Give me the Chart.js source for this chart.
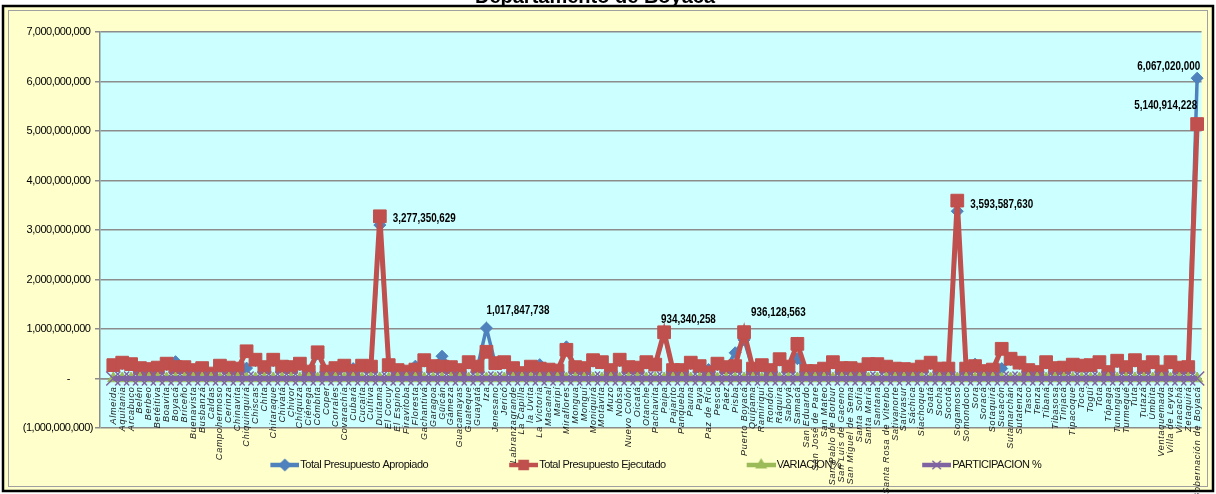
<!DOCTYPE html>
<html>
<head>
<meta charset="utf-8">
<script src="https://cdn.jsdelivr.net/npm/chart.js@4.4.0/dist/chart.umd.min.js"></script>
<style>
  html, body { margin: 0; padding: 0; background: #ffffff; }
  canvas { display: block; }
</style>
</head>
<body>
<canvas id="presupuestoChart" width="1216" height="494"></canvas>
<script>
// ── Data ─────────────────────────────────────────────────────────────
var municipios = ['', 'Almeida', 'Aquitania', 'Arcabuco', 'Belén', 'Berbeo', 'Betéitiva', 'Boavita', 'Boyacá',
  'Briceño', 'Buenavista', 'Busbanzá', 'Caldas', 'Campohermoso', 'Cerinza', 'Chinavita', 'Chiquinquirá',
  'Chiscas', 'Chita', 'Chitaraque', 'Chivatá', 'Chivor', 'Chíquiza', 'Ciénega', 'Cómbita', 'Coper',
  'Corrales', 'Covarachía', 'Cubará', 'Cucaita', 'Cuítiva', 'Duitama', 'El Cocuy', 'El Espino',
  'Firavitoba', 'Floresta', 'Gachantivá', 'Garagoa', 'Güicán', 'Gámeza', 'Guacamayas', 'Guateque',
  'Guayatá', 'Iza', 'Jenesano', 'Jericó', 'Labranzagrande', 'La Capilla', 'la Uvita', 'La Victoria',
  'Macanal', 'Maripí', 'Miraflores', 'Mongua', 'Monguí', 'Moniquirá', 'Motavita', 'Muzo', 'Nobsa',
  'Nuevo Colón', 'Oicatá', 'Otanche', 'Pachavita', 'Paipa', 'Pajarito', 'Panqueba', 'Pauna', 'Paya',
  'Paz de Río', 'Pesca', 'Páez', 'Pisba', 'Puerto Boyacá', 'Quípama', 'Ramiriquí', 'Rondón', 'Ráquira',
  'Saboyá', 'Samacá', 'San Eduardo', 'San José de Pare', 'San Mateo', 'San Pablo de Borbur',
  'San Luis de Gaceno', 'San Miguel de Sema', 'Santa Sofía', 'Santa María', 'Santana',
  'Santa Rosa de Viterbo', 'Sativanorte', 'Sativasur', 'Sáchica', 'Siachoque', 'Soatá', 'Socha',
  'Socotá', 'Sogamoso', 'Somondoco', 'Sora', 'Soracá', 'Sotaquirá', 'Susacón', 'Sutamarchán',
  'Sutatenza', 'Tasco', 'Tenza', 'Tibaná', 'Tibasosa', 'Tinjacá', 'Tipacoque', 'Toca', 'Togüí', 'Tota',
  'Tópaga', 'Tununguá', 'Turmequé', 'Tuta', 'Tutazá', 'Úmbita', 'Ventaquemada', 'Villa de Leyva',
  'Viracachá', 'Zetaquirá', 'Gobernación de Boyacá'];

var apropiado = [null,
  250e6, 300e6, 280e6, 200e6, 180e6, 210e6, 280e6, 340e6, 220e6, 160e6,
  200e6, 90e6, 240e6, 210e6, 190e6, 210e6, 360e6, 220e6, 360e6, 230e6,
  220e6, 280e6, 130e6, 500e6, 130e6, 200e6, 250e6, 200e6, 250e6, 230e6,
  3100e6, 260e6, 160e6, 130e6, 250e6, 350e6, 240e6, 450e6, 220e6, 160e6,
  310e6, 230e6, 1017847738, 290e6, 310e6, 200e6, 100e6, 230e6, 280e6, 170e6,
  150e6, 640e6, 220e6, 200e6, 350e6, 310e6, 160e6, 360e6, 220e6, 210e6,
  310e6, 270e6, 900e6, 160e6, 160e6, 300e6, 240e6, 180e6, 280e6, 220e6,
  520e6, 780e6, 190e6, 260e6, 160e6, 370e6, 230e6, 400e6, 140e6, 140e6,
  190e6, 310e6, 200e6, 200e6, 170e6, 280e6, 280e6, 230e6, 190e6, 180e6,
  170e6, 230e6, 300e6, 190e6, 190e6, 3380e6, 190e6, 290e6, 140e6, 170e6,
  200e6, 380e6, 300e6, 160e6, 120e6, 310e6, 200e6, 210e6, 270e6, 250e6,
  260e6, 310e6, 120e6, 340e6, 220e6, 350e6, 220e6, 310e6, 130e6, 310e6,
  210e6, 220e6, 6067020000];

var ejecutado = [null,
  270e6, 320e6, 290e6, 210e6, 190e6, 220e6, 300e6, 230e6, 230e6, 170e6,
  210e6, 100e6, 260e6, 220e6, 200e6, 550e6, 380e6, 230e6, 380e6, 240e6,
  230e6, 300e6, 140e6, 530e6, 140e6, 210e6, 260e6, 150e6, 260e6, 240e6,
  3277350629, 270e6, 170e6, 140e6, 180e6, 370e6, 250e6, 240e6, 230e6, 170e6,
  330e6, 240e6, 540e6, 310e6, 330e6, 210e6, 110e6, 240e6, 200e6, 180e6,
  160e6, 580e6, 230e6, 210e6, 370e6, 330e6, 170e6, 380e6, 230e6, 220e6,
  330e6, 280e6, 934340258, 170e6, 170e6, 320e6, 250e6, 120e6, 300e6, 230e6,
  250e6, 936128563, 200e6, 270e6, 170e6, 390e6, 240e6, 700e6, 150e6, 150e6,
  200e6, 330e6, 210e6, 210e6, 180e6, 290e6, 290e6, 240e6, 200e6, 190e6,
  180e6, 240e6, 320e6, 200e6, 200e6, 3593587630, 200e6, 250e6, 150e6, 180e6,
  600e6, 400e6, 320e6, 170e6, 130e6, 330e6, 210e6, 220e6, 280e6, 260e6,
  270e6, 330e6, 130e6, 360e6, 230e6, 370e6, 230e6, 330e6, 140e6, 330e6,
  220e6, 230e6, 5140914228];

var variacion = [null,
  7, 6, 3, 5, 5, 4, 7, -26, 4, 6, 5, 9, 8, 4, 5, 171, 5, 4, 5, 4,
  4, 7, 7, 10, 7, 5, 4, -15, 4, 4, 6, 4, 6, 7, -20, 5, 4, -42, 4, 6,
  6, 4, -45, 6, 6, 5, 8, 4, -21, 5, 6, -6, 4, 5, 5, 6, 6, 5, 4, 4,
  6, 3, 4, 6, 6, 6, 4, -22, 7, 4, -48, 20, 5, 4, 6, 5, 4, 80, 6, 6,
  5, 6, 5, 5, 5, 3, 3, 4, 5, 5, 5, 4, 6, 5, 5, 6, 5, -7, 6, 5,
  210, 5, 6, 6, 7, 6, 5, 4, 3, 4, 4, 6, 7, 6, 4, 5, 4, 6, 7, 6,
  4, 4, -15];

var participacion = [null,
  0.6, 0.7, 0.6, 0.5, 0.4, 0.5, 0.7, 0.5, 0.5, 0.4, 0.5, 0.2, 0.6, 0.5, 0.5, 1.2, 0.8, 0.5, 0.8, 0.5,
  0.5, 0.7, 0.3, 1.1, 0.3, 0.5, 0.6, 0.4, 0.6, 0.5, 6.8, 0.6, 0.4, 0.3, 0.4, 0.8, 0.6, 0.5, 0.5, 0.4,
  0.7, 0.5, 1.2, 0.7, 0.7, 0.5, 0.3, 0.5, 0.5, 0.4, 0.4, 1.2, 0.5, 0.5, 0.8, 0.7, 0.4, 0.8, 0.5, 0.5,
  0.7, 0.6, 1.9, 0.4, 0.4, 0.7, 0.6, 0.3, 0.7, 0.5, 0.6, 1.9, 0.5, 0.6, 0.4, 0.8, 0.5, 1.5, 0.4, 0.4,
  0.5, 0.7, 0.5, 0.5, 0.4, 0.6, 0.6, 0.5, 0.5, 0.4, 0.4, 0.5, 0.7, 0.5, 0.5, 7.4, 0.5, 0.6, 0.4, 0.4,
  1.3, 0.9, 0.7, 0.4, 0.3, 0.7, 0.5, 0.5, 0.6, 0.6, 0.6, 0.7, 0.3, 0.8, 0.5, 0.8, 0.5, 0.7, 0.3, 0.7,
  0.5, 0.5, 10.6];

var seriesNames = ['Total Presupuesto Apropiado', 'Total Presupuesto Ejecutado', 'VARIACION%', 'PARTICIPACION %'];
var seriesColors = ['#4F81BD', '#C0504D', '#9BBB59', '#8064A2'];

// ── Which points carry a value label (dataset, category, placement) ──
var labelSpots = [
  { ds: 1, i: 31, align: 'left', dx: 13, dy: 2 },
  { ds: 0, i: 43, align: 'left', dx: 0, dy: -17 },
  { ds: 1, i: 63, align: 'left', dx: -3, dy: -13 },
  { ds: 1, i: 72, align: 'left', dx: 7, dy: -19 },
  { ds: 1, i: 96, align: 'left', dx: 13, dy: 4 },
  { ds: 0, i: 123, align: 'right', dx: 3, dy: -11 },
  { ds: 1, i: 123, align: 'right', dx: 0, dy: -18 }
];

var SANS = '"Liberation Sans", Arial, sans-serif';

function miles(v) {
  return Math.round(Math.abs(v)).toLocaleString('en-US');
}

// legend swatch: short line with the series marker on it (right part of the image)
function legendIcon(color, style, radius) {
  var c = document.createElement('canvas');
  c.width = 83; c.height = 16;
  var g = c.getContext('2d');
  g.strokeStyle = color; g.fillStyle = color;
  g.lineWidth = 4.5;
  g.beginPath(); g.moveTo(54, 8); g.lineTo(83, 8); g.stroke();
  g.lineWidth = 1.5;
  Chart.helpers.drawPoint(g, { pointStyle: style, radius: radius, borderWidth: 1.5 }, 68.5, 8);
  return c;
}

var legendIcons = [
  legendIcon(seriesColors[0], 'rectRot', 5.5),
  legendIcon(seriesColors[1], 'rect', 6.5),
  legendIcon(seriesColors[2], 'triangle', 5.5),
  legendIcon(seriesColors[3], 'crossRot', 6)
];

// ── Background, frame, text tracking and title ───────────────────────
var framePlugin = {
  id: 'frame',
  beforeDraw: function (chart) {
    var ctx = chart.ctx, a = chart.chartArea;
    ctx.save();
    ctx.fillStyle = '#ffffff';
    ctx.fillRect(0, 0, chart.width, chart.height);
    ctx.fillStyle = '#FFFFCC';
    ctx.fillRect(3, 6, 1210, 485);
    ctx.strokeStyle = '#000000';
    ctx.lineWidth = 2.5;
    ctx.strokeRect(3, 6, 1210, 485);
    ctx.strokeStyle = '#a0a0a0';
    ctx.lineWidth = 1;
    ctx.strokeRect(8.5, 10.5, 1199, 476);
    ctx.fillStyle = '#CCFFFF';
    ctx.fillRect(a.left, a.top, a.right - a.left, a.bottom - a.top);
    ctx.restore();
    // y labels and legend are set tight, like the narrow office font
    ctx.letterSpacing = '-0.5px';
  },
  afterDatasetsDraw: function (chart) {
    var ctx = chart.ctx;
    ctx.letterSpacing = '0px';
    ctx.save();
    ctx.font = 'bold 12px ' + SANS;
    ctx.fillStyle = '#000000';
    ctx.textBaseline = 'middle';
    labelSpots.forEach(function (s) {
      var pt = chart.getDatasetMeta(s.ds).data[s.i];
      var v = chart.data.datasets[s.ds].data[s.i];
      if (!pt || v == null) return;
      ctx.save();
      ctx.translate(pt.x + s.dx, pt.y + s.dy);
      ctx.scale(0.82, 1);
      ctx.textAlign = s.align;
      ctx.fillText(miles(v), 0, 0);
      ctx.restore();
    });
    ctx.restore();
    // category names (drawn next) are widely tracked
    ctx.letterSpacing = '0.8px';
  },
  afterDraw: function (chart) {
    var ctx = chart.ctx;
    ctx.letterSpacing = '0px';
    ctx.save();
    ctx.font = 'bold 20px ' + SANS;
    ctx.fillStyle = '#000000';
    ctx.textAlign = 'center';
    ctx.textBaseline = 'alphabetic';
    ctx.fillText('Departamento de Boyacá', 595, 3);
    ctx.restore();
  }
};

new Chart(document.getElementById('presupuestoChart'), {
  type: 'line',
  data: {
    labels: municipios,
    datasets: [
      {
        label: seriesNames[0], data: apropiado, order: 3,
        borderColor: seriesColors[0], backgroundColor: seriesColors[0], borderWidth: 3.5,
        pointStyle: 'rectRot', pointRadius: 6, pointBorderWidth: 1,
        pointBackgroundColor: seriesColors[0], pointBorderColor: seriesColors[0]
      },
      {
        label: seriesNames[1], data: ejecutado, order: 2,
        borderColor: seriesColors[1], backgroundColor: seriesColors[1], borderWidth: 5,
        pointStyle: 'rect', pointRadius: 9, pointBorderWidth: 1,
        pointBackgroundColor: seriesColors[1], pointBorderColor: seriesColors[1]
      },
      {
        label: seriesNames[2], data: variacion, order: 1,
        borderColor: seriesColors[2], backgroundColor: seriesColors[2], borderWidth: 3,
        pointStyle: 'triangle', pointRadius: 6.5, pointBorderWidth: 1,
        pointBackgroundColor: seriesColors[2], pointBorderColor: seriesColors[2]
      },
      {
        label: seriesNames[3], data: participacion, order: 0,
        borderColor: seriesColors[3], backgroundColor: seriesColors[3], borderWidth: 5,
        pointStyle: 'crossRot', pointRadius: 10, pointBorderWidth: 1.5,
        pointBackgroundColor: seriesColors[3], pointBorderColor: seriesColors[3]
      }
    ]
  },
  options: {
    responsive: false,
    animation: false,
    events: [],
    layout: { padding: { left: 20, right: 13, top: 32, bottom: 13.5 } },
    plugins: {
      title: { display: false },
      tooltip: { enabled: false },
      legend: {
        position: 'bottom',
        fullSize: false,
        labels: {
          usePointStyle: true,
          pointStyleWidth: 74,
          padding: 31.5,
          color: '#111111',
          font: { family: SANS, size: 11 },
          sort: function (a, b) { return a.datasetIndex - b.datasetIndex; },
          generateLabels: function (chart) {
            var items = Chart.defaults.plugins.legend.labels.generateLabels(chart);
            items.forEach(function (it) { it.pointStyle = legendIcons[it.datasetIndex]; });
            return items;
          }
        }
      }
    },
    scales: {
      x: {
        type: 'category',
        offset: true,
        position: { y: 0 },
        grid: { display: false, drawTicks: false },
        border: { display: true, color: '#8c8c8c', width: 1.5 },
        ticks: {
          z: 1,
          autoSkip: false,
          maxRotation: 90,
          minRotation: 90,
          padding: 8,
          color: '#1a1a1a',
          font: { family: SANS, style: 'italic', size: 9 }
        }
      },
      y: {
        min: -1000000000,
        max: 7000000000,
        grid: { color: '#8c8c8c', lineWidth: 1.5, tickLength: 5 },
        border: { display: true, color: '#8c8c8c', width: 1.5 },
        ticks: {
          stepSize: 1000000000,
          padding: 2,
          color: '#000000',
          font: { family: SANS, size: 11 },
          callback: function (v) {
            if (v === 0) return '-         ';
            if (v < 0) return '(' + miles(v) + ')';
            return miles(v) + ' ';
          }
        },
        afterFit: function (scale) { scale.width = 80; }
      }
    }
  },
  plugins: [framePlugin]
});
</script>
</body>
</html>
